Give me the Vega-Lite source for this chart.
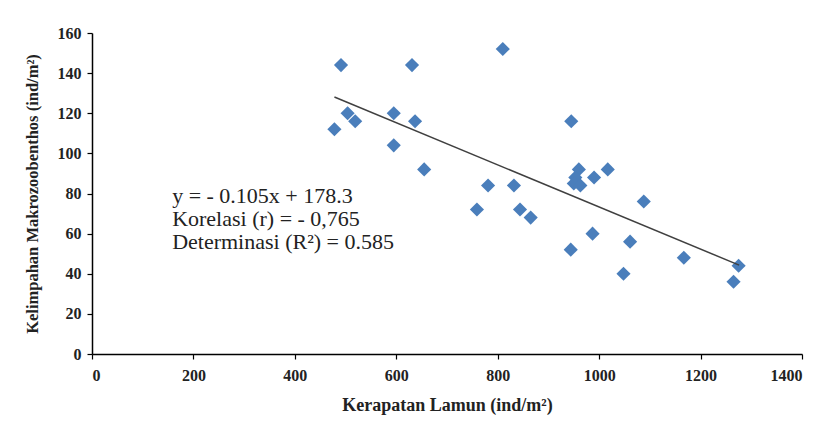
{
  "$schema": "https://vega.github.io/schema/vega-lite/v6.json",
  "width": 710,
  "height": 321,
  "autosize": {"type": "none"},
  "padding": {"left": 92, "top": 33, "right": 26, "bottom": 78},
  "background": "white",
  "config": {
    "view": {"stroke": null},
    "axis": {
      "grid": false,
      "domainColor": "black",
      "domainWidth": 1.5,
      "tickColor": "black",
      "tickWidth": 1.2,
      "tickSize": 5,
      "labelFont": "Liberation Serif",
      "labelFontWeight": "bold",
      "labelFontSize": 16,
      "labelColor": "#222222",
      "titleFont": "Liberation Serif",
      "titleFontWeight": "bold",
      "titleColor": "#222222"
    }
  },
  "datasets": {
    "points": [
      {"x": 478, "y": 112}, {"x": 491, "y": 144}, {"x": 504, "y": 120}, {"x": 519, "y": 116},
      {"x": 595, "y": 120}, {"x": 595, "y": 104}, {"x": 631, "y": 144}, {"x": 637, "y": 116},
      {"x": 655, "y": 92}, {"x": 759, "y": 72}, {"x": 781, "y": 84}, {"x": 810, "y": 152},
      {"x": 832, "y": 84}, {"x": 844, "y": 72}, {"x": 865, "y": 68}, {"x": 945, "y": 116},
      {"x": 944, "y": 52}, {"x": 960, "y": 92}, {"x": 953, "y": 88}, {"x": 950, "y": 85},
      {"x": 963, "y": 84}, {"x": 990, "y": 88}, {"x": 1017, "y": 92}, {"x": 987, "y": 60},
      {"x": 1048, "y": 40}, {"x": 1061, "y": 56}, {"x": 1088, "y": 76}, {"x": 1167, "y": 48},
      {"x": 1265, "y": 36}, {"x": 1275, "y": 44}
    ],
    "trend": [
      {"x": 478, "y": 128.1},
      {"x": 1276, "y": 44.3}
    ],
    "notes": [
      {"x": 158, "y": 79, "label": "y = - 0.105x + 178.3"},
      {"x": 158, "y": 67.3, "label": "Korelasi (r) = - 0,765"},
      {"x": 158, "y": 55.6, "label": "Determinasi (R²) = 0.585"}
    ]
  },
  "layer": [
    {
      "data": {"name": "points"},
      "mark": {"type": "point", "shape": "diamond", "filled": true, "size": 200, "color": "#4a7ebb", "opacity": 1},
      "encoding": {
        "x": {
          "field": "x", "type": "quantitative",
          "scale": {"domain": [0, 1400], "nice": false},
          "axis": {"values": [0, 200, 400, 600, 800, 1000, 1200, 1400], "format": "d", "title": "Kerapatan Lamun (ind/m²)", "titleFontSize": 18, "labelPadding": 8, "titlePadding": 13}
        },
        "y": {
          "field": "y", "type": "quantitative",
          "scale": {"domain": [0, 160], "nice": false},
          "axis": {"values": [0, 20, 40, 60, 80, 100, 120, 140, 160], "format": "d", "title": "Kelimpahan Makrozoobenthos (ind/m²)", "titleFontSize": 16.5, "labelPadding": 6, "titlePadding": 17}
        }
      }
    },
    {
      "data": {"name": "trend"},
      "mark": {"type": "line", "color": "#404040", "strokeWidth": 1.5},
      "encoding": {
        "x": {"field": "x", "type": "quantitative"},
        "y": {"field": "y", "type": "quantitative"}
      }
    },
    {
      "data": {"name": "notes"},
      "mark": {"type": "text", "align": "left", "baseline": "middle", "font": "Liberation Serif", "fontSize": 22, "color": "#222222"},
      "encoding": {
        "x": {"field": "x", "type": "quantitative"},
        "y": {"field": "y", "type": "quantitative"},
        "text": {"field": "label"}
      }
    }
  ]
}
